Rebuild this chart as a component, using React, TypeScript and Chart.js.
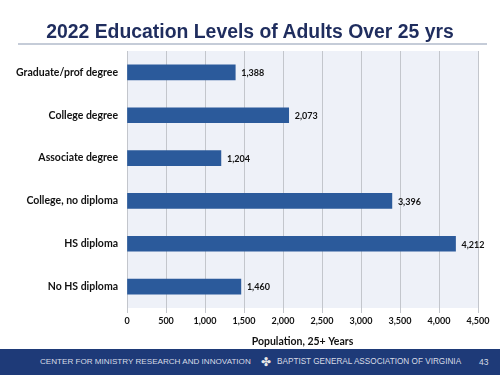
import React, { useEffect, useRef } from "react";
import { Chart, registerables } from "chart.js";

Chart.register(...registerables);

const categories = [
  "Graduate/prof degree",
  "College degree",
  "Associate degree",
  "College, no diploma",
  "HS diploma",
  "No HS diploma",
];
const population = [1388, 2073, 1204, 3396, 4212, 1460];
const xTicks = [0, 500, 1000, 1500, 2000, 2500, 3000, 3500, 4000, 4500];

const titleText = "2022 Education Levels of Adults Over 25 yrs";
const xAxisTitle = "Population, 25+ Years";
const footerText = "CENTER FOR MINISTRY  RESEARCH AND INNOVATION";
const footerText2 = "BAPTIST GENERAL ASSOCIATION  OF VIRGINIA";
const pageNumber = "43";

const LABEL_FONT = "Lato, 'Open Sans', sans-serif";

const fmt = (v: number) => v.toLocaleString("en-US");

export default function App() {
  const canvasRef = useRef<HTMLCanvasElement | null>(null);

  useEffect(() => {
    document.body.style.margin = "0";
    const canvas = canvasRef.current;
    if (!canvas) return;

    const bgPlugin = {
      id: "plotBg",
      beforeDraw(chart: any) {
        const { ctx, chartArea } = chart;
        ctx.save();
        ctx.fillStyle = "#eef1f8";
        ctx.fillRect(chartArea.left, chartArea.top, chartArea.right - chartArea.left, chartArea.bottom - chartArea.top);
        ctx.restore();
      },
    };

    const valuePlugin = {
      id: "valueLabels",
      afterDatasetsDraw(chart: any) {
        const { ctx } = chart;
        const meta = chart.getDatasetMeta(0);
        ctx.save();
        ctx.fillStyle = "#111";
        ctx.font = `bold 9px ${LABEL_FONT}`;
        ctx.textAlign = "left";
        ctx.textBaseline = "middle";
        meta.data.forEach((bar: any, i: number) => {
          ctx.fillText(fmt(population[i]), bar.x + 6, bar.y + 1);
        });
        ctx.restore();
      },
    };

    const chart = new Chart(canvas, {
      type: "bar",
      data: {
        labels: categories,
        datasets: [
          {
            data: population,
            backgroundColor: "#2b5a9b",
            borderWidth: 0,
            barThickness: 15,
          },
        ],
      },
      options: {
        indexAxis: "y",
        animation: false,
        responsive: false,
        maintainAspectRatio: false,
        layout: { padding: { top: 51, left: 0, right: 22, bottom: 27 } },
        plugins: {
          legend: { display: false },
          tooltip: { enabled: false },
          title: { display: false },
        },
        scales: {
          x: {
            min: 0,
            max: 4500,
            afterBuildTicks(scale: any) {
              scale.ticks = xTicks.map((v) => ({ value: v }));
            },
            afterFit(scale: any) {
              scale.height = 40;
            },
            grid: {
              color: "#c3c6cc",
              lineWidth: 1,
              tickLength: 5,
              drawTicks: true,
            },
            border: { display: false },
            ticks: {
              padding: 3,
              color: "#111",
              font: { family: LABEL_FONT, size: 9, weight: "bold" },
              callback: (v: any) => fmt(Number(v)),
            },
            title: {
              display: true,
              text: xAxisTitle,
              color: "#111",
              padding: { top: 3, bottom: 0 },
              font: { family: LABEL_FONT, size: 10.5, weight: "bold" },
            },
          },
          y: {
            afterFit(scale: any) {
              scale.width = 127;
            },
            grid: { display: false, drawTicks: false },
            border: { display: false },
            ticks: {
              padding: 9,
              color: "#111",
              font: { family: LABEL_FONT, size: 10.5, weight: "bold" },
            },
          },
        },
      } as any,
      plugins: [bgPlugin, valuePlugin],
    });

    return () => chart.destroy();
  }, []);

  return (
    <div style={{ position: "fixed", left: 0, top: 0, width: 500, height: 375, background: "#fff", overflow: "hidden" }}>
      <canvas ref={canvasRef} width={500} height={375} style={{ position: "absolute", left: 0, top: 0, width: 500, height: 375 }} />
      <div
        style={{
          position: "absolute",
          left: 0,
          top: 19,
          width: 500,
          textAlign: "center",
          fontFamily: "'Liberation Sans', Arial, sans-serif",
          fontWeight: "bold",
          fontSize: 19.4,
          lineHeight: "24px",
          color: "#1f2d5e",
        }}
      >
        {titleText}
      </div>
      <div style={{ position: "absolute", left: 18, top: 43, width: 469, height: 2, background: "#c5ccd8" }} />
      <div
        style={{
          position: "absolute",
          left: 0,
          top: 349,
          width: 500,
          height: 26,
          background: "#1e3a78",
          color: "#d8dce6",
          fontFamily: "'Liberation Sans', Arial, sans-serif",
          fontSize: 8.5,
          lineHeight: "26px",
          whiteSpace: "nowrap",
        }}
      >
        <span style={{ position: "absolute", left: 40, top: 0, fontSize: 8.1 }}>{footerText}</span>
        <span style={{ position: "absolute", left: 261, top: 0, color: "#e8e8e8", fontSize: 12 }}>✤</span>
        <span style={{ position: "absolute", left: 277, top: 0, fontSize: 8.2 }}>{footerText2}</span>
        <span style={{ position: "absolute", left: 479, top: 0 }}>{pageNumber}</span>
      </div>
    </div>
  );
}
